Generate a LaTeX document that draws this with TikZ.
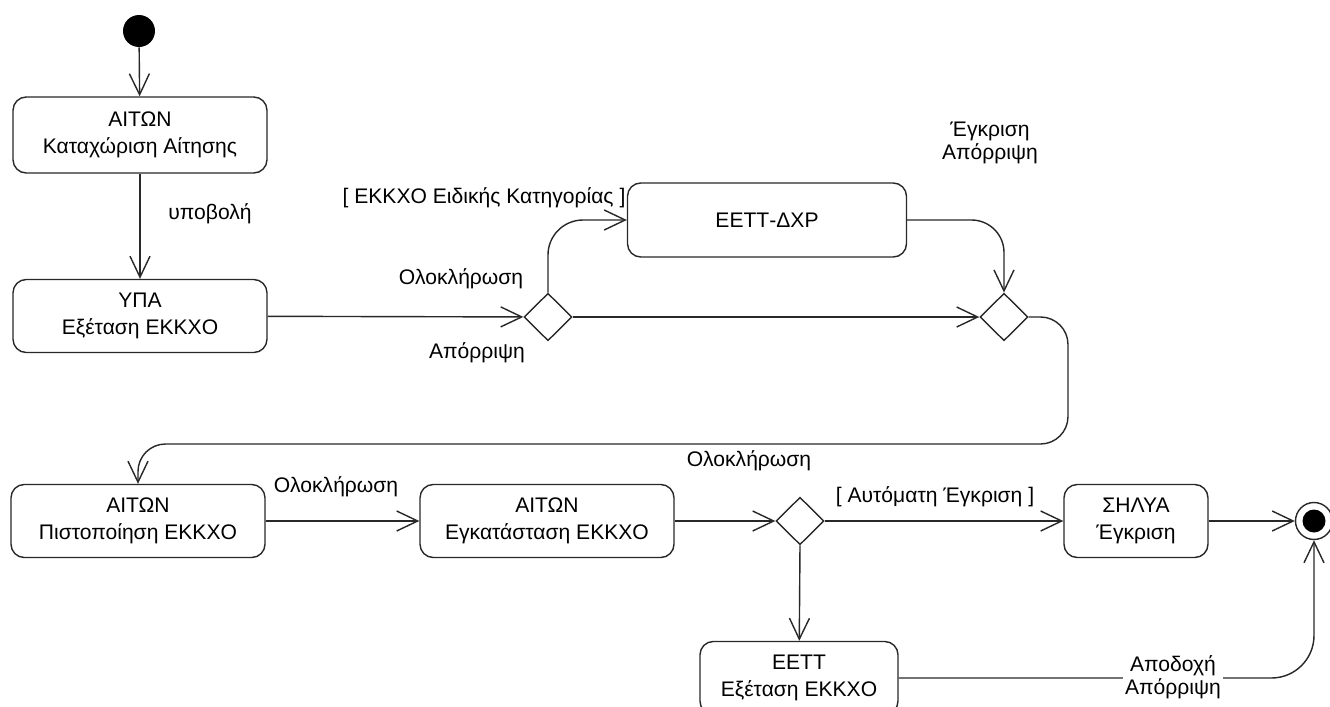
\documentclass[tikz,border=0pt]{standalone}
\usepackage{fontspec}
\setmainfont{Liberation Sans}
\usetikzlibrary{shapes.geometric, arrows.meta, positioning}

\definecolor{linegray}{RGB}{40, 40, 40}

\tikzset{
  statebox/.style={draw=linegray, line width=0.8pt, rounded corners=7.5pt, align=center, minimum width=5.08cm, minimum height=1.46cm, font=\fontsize{12}{15.3}\selectfont},
  choice/.style={diamond, draw=linegray, line width=0.8pt, minimum width=0.96cm, minimum height=0.95cm, inner sep=0pt},
  trans/.style={draw=linegray, line width=0.8pt, -{Straight Barb[length=0.42cm, width=0.4cm]}},
  lbl/.style={font=\fontsize{12}{13}\selectfont, align=center, inner sep=1pt},
}

\begin{document}
\begin{tikzpicture}[x=0.02cm, y=-0.02cm]
  \useasboundingbox (0,0) rectangle (1330,707);
  \fill[white] (0,0) rectangle (1330,707);

  % Initial and final states
  \node[circle, fill=black, minimum size=0.64cm, inner sep=0pt] (start) at (139,31) {};
  \node[circle, draw=linegray, line width=0.8pt, fill=white, minimum size=0.74cm, inner sep=0pt] (end) at (1314,521) {};
  \fill (end.center) circle (0.23cm);

  % States
  \node[statebox, minimum height=1.52cm] (kataxorisi) at (140,135) {ΑΙΤΩΝ\\Καταχώριση Αίτησης};
  \node[statebox] (ypa) at (140,316) {ΥΠΑ\\Εξέταση ΕΚΚΧΟ};
  \node[statebox, minimum width=5.58cm, minimum height=1.48cm] (dxr) at (767,220) {ΕΕΤΤ-ΔΧΡ};
  \node[statebox] (pistop) at (138,521) {ΑΙΤΩΝ\\Πιστοποίηση ΕΚΚΧΟ};
  \node[statebox] (egkat) at (547,521) {ΑΙΤΩΝ\\Εγκατάσταση ΕΚΚΧΟ};
  \node[statebox, minimum width=2.88cm] (shlya) at (1136,521) {ΣΗΛΥΑ\\Έγκριση};
  \node[statebox, minimum width=3.96cm] (eett) at (799,678) {ΕΕΤΤ\\Εξέταση ΕΚΚΧΟ};

  % Decisions
  \node[choice] (dec1) at (548,317) {};
  \node[choice] (dec2) at (1004,317) {};
  \node[choice] (dec3) at (800,521) {};
  \coordinate (loopR) at (1068,444);

  % Transitions
  \draw[trans] (start) -- (kataxorisi);
  \draw[trans] (kataxorisi) -- (ypa);
  \draw[trans] (ypa) -- (dec1);
  \draw[trans, rounded corners=0.7cm] (dec1.north) |- (dxr.west);
  \draw[trans, rounded corners=0.65cm] (dxr.east) -| (dec2.north);
  \draw[trans] (dec1.east) -- (dec2.west);
  \draw[trans, rounded corners=0.55cm] (dec2.east) -| (loopR) -| (pistop.north);
  \draw[trans] (pistop) -- (egkat);
  \draw[trans] (egkat) -- (dec3);
  \draw[trans] (dec3.east) -- (shlya);
  \draw[trans] (shlya) -- (end);
  \draw[trans] (dec3.south) -- (eett);
  \draw[trans, rounded corners=0.85cm] (eett.east) -| (end.south);

  % Labels
  \node[lbl] (lYpovoli) at (210,214) {υποβολή};
  \node[lbl] (lOlok1) at (461,279) {Ολοκλήρωση};
  \node[lbl] (lAporr1) at (477,353) {Απόρριψη};
  \node[lbl] (lEidiki) at (484,198) {[ ΕΚΚΧΟ Ειδικής Κατηγορίας ]};
  \node[lbl] (lEgkrAporr) at (990,143) {Έγκριση\\Απόρριψη};
  \node[lbl] (lOlok2) at (749,461) {Ολοκλήρωση};
  \node[lbl] (lOlok3) at (336,487) {Ολοκλήρωση};
  \node[lbl] (lAytomati) at (935,497) {[ Αυτόματη Έγκριση ]};
  \node[lbl, fill=white] (lApodoxi) at (1173,677) {Αποδοχή\\Απόρριψη};
\end{tikzpicture}
\end{document}
